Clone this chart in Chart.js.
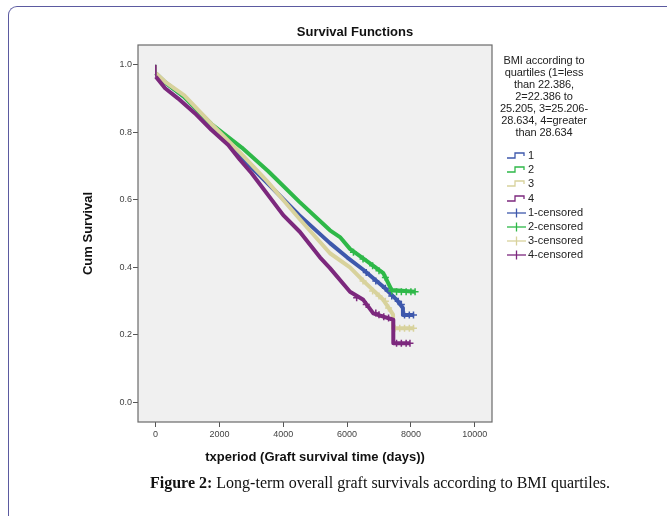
<!DOCTYPE html>
<html>
<head>
<meta charset="utf-8">
<script src="https://cdn.jsdelivr.net/npm/chart.js@4.4.1/dist/chart.umd.min.js"></script>
<style>
    body { margin: 0; background: #fff; font-family: "Liberation Sans", Arial, sans-serif; }
    #wrap { position: relative; width: 667px; height: 516px; overflow: hidden; }
    #frame { position: absolute; left: 8px; top: 6px; width: 700px; height: 530px;
             border-left: 1.5px solid #5b5aa0; border-top: 1.5px solid #5b5aa0; border-top-left-radius: 9px; }
    #chart { position: absolute; left: 0; top: 0; }
    #title { position: absolute; left: 255px; width: 200px; top: 24px; text-align: center;
             font-size: 13px; font-weight: bold; color: #111; }
    #legend { position: absolute; left: 494px; top: 54px; width: 100px; font-size: 11px; color: #222; }
    #legend .head { text-align: center; line-height: 12px; letter-spacing: -0.1px; }
    #legend .item { position: absolute; left: 12px; height: 14px; line-height: 14px; white-space: nowrap; }
    #legend svg { vertical-align: middle; margin-right: 1px; }
    #caption { position: absolute; left: 0; width: 760px; top: 474px; text-align: center;
               font-family: "Liberation Serif", "Times New Roman", serif; font-size: 16px; color: #111; }
</style>
</head>
<body>
<div id="wrap">
    <div id="frame"></div>
    <canvas id="chart" width="667" height="516"></canvas>
    <div id="title">Survival Functions</div>
    <div id="legend"></div>
    <div id="caption"><b>Figure 2:</b> Long-term overall graft survivals according to BMI quartiles.</div>
</div>
<script>
// BMI quartile groups
const groups = ['1', '2', '3', '4'];
const groupColors = ['#3e58ac', '#2eb848', '#d8d29c', '#7c287d'];

// survival curves, [days, cum survival]
const survival1 = [[0, 1], [10, 0.975], [300, 0.948], [900, 0.905], [1750, 0.822], [2650, 0.73], [3500, 0.65],
    [4500, 0.555], [5464, 0.472], [6000, 0.43], [6508, 0.393], [7135, 0.343], [7555, 0.304], [7750, 0.28],
    [7750, 0.259], [8100, 0.259]];
const survival2 = [[0, 1], [10, 0.975], [300, 0.948], [900, 0.905], [1750, 0.825], [2700, 0.755], [3531, 0.685],
    [4500, 0.595], [5464, 0.51], [5777, 0.49], [6091, 0.455], [6600, 0.42], [7135, 0.383], [7398, 0.333],
    [8130, 0.328]];
const survival3 = [[0, 1], [10, 0.975], [300, 0.95], [900, 0.91], [1750, 0.825], [2650, 0.74], [3500, 0.655],
    [4500, 0.545], [5464, 0.442], [6091, 0.40], [6508, 0.36], [7135, 0.304], [7345, 0.274], [7440, 0.26],
    [7440, 0.22], [8100, 0.22]];
const survival4 = [[0, 1], [10, 0.965], [300, 0.931], [700, 0.901], [1230, 0.857], [1755, 0.807], [2277, 0.763],
    [2643, 0.719], [3009, 0.679], [4000, 0.555], [4524, 0.505], [5150, 0.43], [5464, 0.398], [6091, 0.328],
    [6508, 0.304], [6821, 0.264], [7135, 0.254], [7448, 0.245], [7448, 0.175], [7972, 0.175]];

// censored observations (tail, where they can be told apart)
const censored1 = [[6600, 0.385], [6900, 0.36], [7200, 0.338], [7400, 0.315], [7600, 0.30], [7700, 0.29],
    [7800, 0.259], [7950, 0.259], [8080, 0.259]];
const censored2 = [[6200, 0.445], [6500, 0.425], [6800, 0.405], [7000, 0.39], [7200, 0.37], [7400, 0.33],
    [7550, 0.328], [7700, 0.328], [7850, 0.328], [8000, 0.328], [8130, 0.328]];
const censored3 = [[6500, 0.36], [6800, 0.33], [7000, 0.315], [7200, 0.30], [7300, 0.28], [7500, 0.22],
    [7650, 0.22], [7800, 0.22], [7950, 0.22], [8080, 0.22]];
const censored4 = [[6300, 0.31], [6600, 0.29], [6900, 0.265], [7000, 0.26], [7150, 0.254], [7300, 0.25],
    [7550, 0.175], [7700, 0.175], [7850, 0.175], [7970, 0.175]];

const xTicks = [0, 2000, 4000, 6000, 8000, 10000];
const yTicks = [0, 0.2, 0.4, 0.6, 0.8, 1.0];

const legendTitle = ['BMI according to', 'quartiles (1=less', 'than 22.386,', '2=22.386 to',
    '25.205, 3=25.206-', '28.634, 4=greater', 'than 28.634'];

const survivalSets = [survival1, survival2, survival3, survival4];
const censoredSets = [censored1, censored2, censored3, censored4];

function toPoints(arr) {
    return arr.map(p => ({ x: p[0], y: p[1] }));
}

const plotFrame = {
    id: 'plotFrame',
    beforeDatasetsDraw(chart) {
        const { ctx, chartArea: a } = chart;
        ctx.save();
        ctx.fillStyle = '#f0f0f0';
        ctx.fillRect(a.left, a.top, a.width, a.height);
        ctx.strokeStyle = '#6a6a6a';
        ctx.lineWidth = 1.2;
        ctx.strokeRect(a.left, a.top, a.width, a.height);
        ctx.restore();
    }
};

const datasets = [];
survivalSets.forEach((s, i) => {
    datasets.push({
        label: groups[i],
        type: 'line',
        data: toPoints(s),
        borderColor: groupColors[i],
        borderWidth: 4,
        pointRadius: 0,
        tension: 0,
        fill: false,
        borderJoinStyle: 'round',
        // the first drop at day 0 shows as a thin spike
        segment: { borderWidth: ctx => ctx.p0DataIndex === 0 ? 1 : 4 },
        order: 4 - i
    });
});
censoredSets.forEach((s, i) => {
    datasets.push({
        label: groups[i] + '-censored',
        type: 'scatter',
        data: toPoints(s),
        borderColor: groupColors[i],
        backgroundColor: groupColors[i],
        pointStyle: 'cross',
        pointRadius: 3.5,
        borderWidth: 1.5,
        order: 4 - i
    });
});

const tickFont = { family: "'Liberation Sans', Arial, sans-serif", size: 9 };
const titleFont = { family: "'Liberation Sans', Arial, sans-serif", size: 13, weight: 'bold' };

new Chart(document.getElementById('chart'), {
    type: 'scatter',
    data: { datasets: datasets },
    options: {
        responsive: false,
        animation: false,
        layout: { padding: { left: 81, top: 45, right: 175, bottom: 51 } },
        plugins: { legend: { display: false }, title: { display: false }, tooltip: { enabled: false } },
        scales: {
            x: {
                type: 'linear',
                min: -550,
                max: 10540,
                afterBuildTicks: scale => { scale.ticks = xTicks.map(v => ({ value: v })); },
                afterFit: scale => { scale.height = 43; },
                grid: { drawOnChartArea: false, drawTicks: true, tickLength: 5, color: '#555' },
                border: { display: false },
                ticks: { font: tickFont, color: '#444', padding: 2, maxRotation: 0, callback: v => String(v) },
                title: { display: true, text: 'txperiod (Graft survival time (days))', font: titleFont, color: '#111', padding: 0 }
            },
            y: {
                type: 'linear',
                min: -0.058,
                max: 1.059,
                afterBuildTicks: scale => { scale.ticks = yTicks.map(v => ({ value: v })); },
                afterFit: scale => { scale.width = 57; },
                grid: { drawOnChartArea: false, drawTicks: true, tickLength: 5, color: '#555' },
                border: { display: false },
                ticks: { font: tickFont, color: '#444', padding: 1, callback: v => v.toFixed(1) },
                title: { display: true, text: 'Cum Survival', font: titleFont, color: '#111', padding: 0 }
            }
        }
    },
    plugins: [plotFrame]
});

// legend
const legend = document.getElementById('legend');
legend.innerHTML = '<div class="head">' + legendTitle.join('<br>') + '</div>';
const items = groups.map((g, i) => ({ text: g, color: groupColors[i], kind: 'step' }))
    .concat(groups.map((g, i) => ({ text: g + '-censored', color: groupColors[i], kind: 'cross' })));
items.forEach((it, k) => {
    const el = document.createElement('div');
    el.className = 'item';
    el.style.top = (94 + k * 14.2) + 'px';
    const shape = it.kind === 'step'
        ? '<polyline points="1,8 9,8 9,3 18,3 18,6" fill="none" stroke="' + it.color + '" stroke-width="1.3"/>'
        : '<line x1="1" y1="6" x2="20" y2="6" stroke="' + it.color + '" stroke-width="1.3"/>' +
          '<line x1="10.5" y1="1.5" x2="10.5" y2="10.5" stroke="' + it.color + '" stroke-width="1.3"/>';
    el.innerHTML = '<svg width="21" height="12">' + shape + '</svg>' + it.text;
    legend.appendChild(el);
});
</script>
</body>
</html>
